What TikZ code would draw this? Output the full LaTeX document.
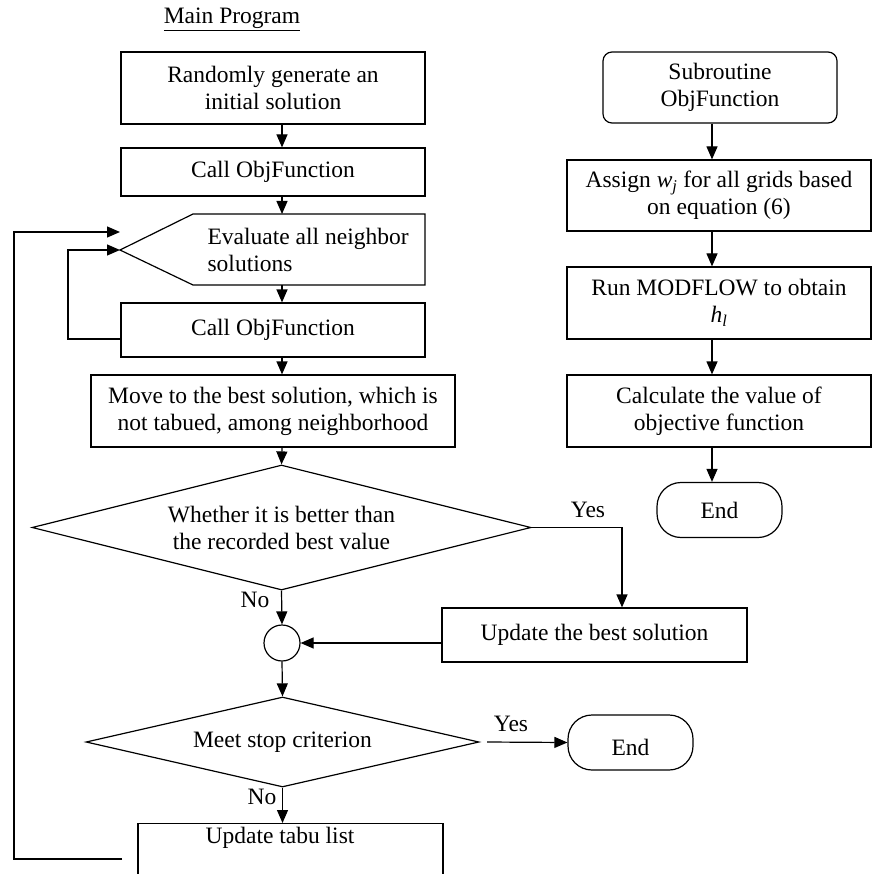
\documentclass[tikz,border=0pt]{standalone}
\usepackage{fontspec}
\setmainfont{Liberation Serif}
\usetikzlibrary{arrows.meta,shapes.geometric}
\begin{document}
\begin{tikzpicture}[x=1pt,y=-1pt,line width=1.2pt,
  every node/.style={font=\fontsize{23.5}{27}\selectfont},
  box/.style={draw,rectangle,align=center,inner sep=0pt},
  term/.style={draw,rectangle,rounded corners=24pt,minimum width=125pt,minimum height=55pt,inner sep=0pt},
  arr/.style={-{Triangle[length=13pt,width=11pt]}},
  lbl/.style={inner sep=0pt}]
\useasboundingbox (0,0) rectangle (874,874);
\clip (0,0) rectangle (874,874);
% ---------- main program ----------
\node (title) at (232,19) {\underline{Main Program}};
\node[box,minimum width=304pt,minimum height=72pt] (b1) at (273,88) {Randomly generate an\\initial solution};
\node[box,minimum width=304pt,minimum height=48pt] (b2) at (273,172) {Call ObjFunction};
\coordinate (evl) at (120,250);
\coordinate (evtl) at (193,214);
\coordinate (evtr) at (425,214);
\coordinate (evbr) at (425,285);
\coordinate (evbl) at (193,285);
\draw (evl) -- (evtl) -- (evtr) -- (evbr) -- (evbl) -- cycle;
\node[align=left,anchor=west,inner sep=0pt] (ev) at (207,250) {Evaluate all neighbor\\solutions};
\node[box,minimum width=304pt,minimum height=54pt] (c2) at (273,330) {Call ObjFunction};
\node[box,minimum width=364pt,minimum height=72pt] (mv) at (273,411) {Move to the best solution, which is\\not tabued, among neighborhood};
\node[draw,diamond,aspect=3.99,minimum width=499pt,minimum height=125pt,inner sep=0pt,align=center] (dec) at (281.5,527.5) {Whether it is better than\\the recorded best value};
\node[draw,circle,minimum size=36pt,inner sep=0pt] (jn) at (282,643) {};
\node[box,minimum width=305pt,minimum height=54pt] (ub) at (594.5,635) {Update the best solution};
\node[draw,diamond,aspect=4.37,minimum width=393pt,minimum height=90pt,inner sep=0pt] (stop) at (282.5,742) {Meet stop criterion};
\node[term] (end1) at (630.5,742.5) {};
\node[inner sep=0pt] (end1t) at (630.5,747) {End};
\node[draw,rectangle,minimum width=305pt,minimum height=100pt,anchor=north,inner sep=0pt] (tabu) at (290.5,823) {};
\node[inner sep=0pt] (tabut) at (280,838) {Update tabu list};
% labels
\node[lbl] (yes1) at (588,510) {Yes};
\node[lbl] (yes2) at (511,724) {Yes};
\node[lbl] (no1) at (255,600) {No};
\node[lbl] (no2) at (262,797) {No};
% ---------- subroutine ----------
\node[draw,rectangle,rounded corners=9pt,minimum width=234pt,minimum height=71pt,align=center,inner sep=0pt] (sub) at (720,87.5) {Subroutine\\ObjFunction};
\node[box,minimum width=304pt,minimum height=71pt] (as) at (719,195.5) {Assign \textit{w}\textsubscript{\textit{j}} for all grids based\\on equation (6)};
\node[box,minimum width=304pt,minimum height=72pt] (run) at (719,303) {Run MODFLOW to obtain\\\textit{h}\textsubscript{\textit{l}}};
\node[box,minimum width=304pt,minimum height=72pt] (calc) at (719,411) {Calculate the value of\\objective function};
\node[term] (end2) at (719.5,510) {End};
% ---------- connectors ----------
\coordinate (ax) at (282,0);
\draw[arr] (b1.south -| ax) -- (b2.north -| ax);
\draw[arr] (b2.south -| ax) -- (evtl -| ax);
\draw[arr] (evbl -| ax) -- (c2.north -| ax);
\draw[arr] (c2.south -| ax) -- (mv.north -| ax);
\draw[arr] (mv.south -| ax) -- (dec.north);
\draw[arr] (dec.south) -- (jn.north);
\draw[arr] (jn.south) -- (stop.north);
\draw[arr] (stop.south) -- (tabu.north -| stop.south);
\draw[arr] (dec.east) -| ([xshift=27.5pt]ub.north);
\draw[arr] (ub.west |- jn.east) -- (jn.east);
\coordinate (ys) at (487,742);
\draw[arr] (ys) -- (end1.west);
\coordinate (lx) at (68,0);
\draw[arr] ([yshift=-9pt]c2.west) -| (lx |- evl) -- (evl);
\coordinate (lp) at (122,859);
\coordinate (ox) at (14,0);
\coordinate (otip) at (120,232);
\draw[arr] (lp) -- (ox |- lp) -- (ox |- otip) -- (otip);
\coordinate (bx) at (712,0);
\draw[arr] (sub.south -| bx) -- (as.north -| bx);
\draw[arr] (as.south -| bx) -- (run.north -| bx);
\draw[arr] (run.south -| bx) -- (calc.north -| bx);
\draw[arr] (calc.south -| bx) -- (end2.north -| bx);
\end{tikzpicture}
\end{document}
